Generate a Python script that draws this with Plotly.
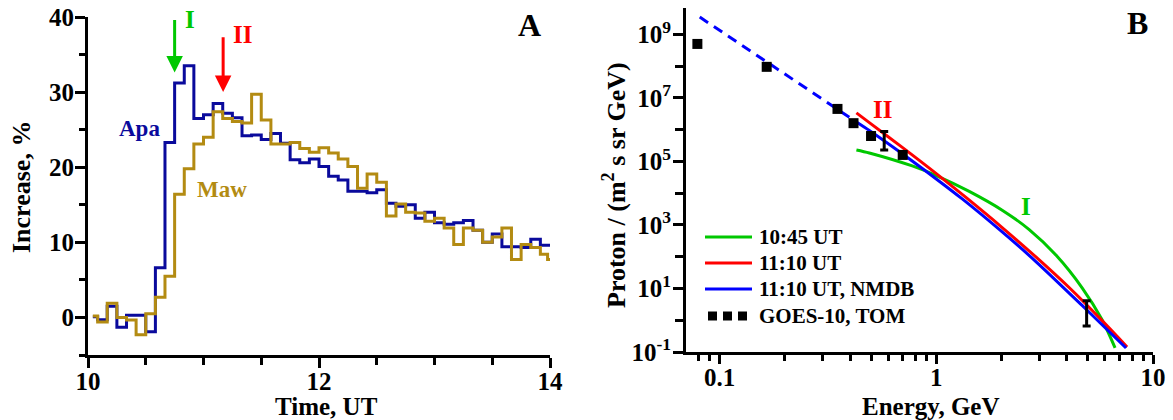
import math
import plotly.graph_objects as go

# ---------------- Panel A data (5-min bins, hours UT) ----------------
time_ut = [10.042, 10.125, 10.208, 10.292, 10.375, 10.458, 10.542, 10.625, 10.708, 10.792,
           10.875, 10.958, 11.042, 11.125, 11.208, 11.292, 11.375, 11.458, 11.542, 11.625,
           11.708, 11.792, 11.875, 11.958, 12.042, 12.125, 12.208, 12.292, 12.375, 12.458,
           12.542, 12.625, 12.708, 12.792, 12.875, 12.958, 13.042, 13.125, 13.208, 13.292,
           13.375, 13.458, 13.542, 13.625, 13.708, 13.792, 13.875, 13.958, 14.0]

apa_increase = [0.1, -0.3, 1.5, -1.3, 0.3, 0.3, -1.9, 6.6, 23.3, 31.2,
                33.5, 26.5, 27.0, 28.5, 27.2, 26.6, 24.2, 24.3, 23.7, 24.5,
                23.2, 21.0, 20.6, 21.1, 20.1, 18.8, 18.3, 16.8, 16.8, 16.6,
                17.0, 15.2, 14.8, 15.0, 13.2, 14.0, 12.6, 12.4, 12.6, 12.9,
                11.6, 10.0, 11.1, 9.4, 9.4, 9.3, 10.4, 9.6, 9.6]

maw_increase = [0.2, -0.6, 1.9, 0.0, -0.35, -2.3, 0.5, 2.7, 5.5, 16.4,
                19.8, 23.1, 24.0, 27.4, 26.5, 26.1, 25.9, 29.7, 26.3, 23.1,
                23.1, 23.3, 22.5, 22.0, 22.6, 21.9, 21.1, 20.1, 17.2, 19.1,
                18.0, 13.5, 15.1, 14.0, 13.9, 12.8, 13.2, 11.9, 9.7, 11.9,
                11.6, 10.0, 10.7, 11.9, 7.7, 9.7, 9.3, 8.4, 7.7]

arrow_times = [10.75, 11.17]          # I (10:45) and II (11:10)
arrow_labels = ["I", "II"]

# ---------------- Panel B data ----------------
goes_energy = [0.079, 0.165, 0.35, 0.415, 0.50, 0.70]
goes_flux = [5.0e8, 9.5e7, 4.5e6, 1.6e6, 6.3e5, 1.6e5]

tom_energy = [0.575, 4.94]
tom_low = [2.3e5, 0.66]
tom_high = [8.7e5, 4.1]

e_1045 = [0.428, 0.491, 0.775, 1.0, 1.419, 2.014, 2.684, 3.573, 4.709, 5.821, 6.683]
f_1045 = [2.30e5, 1.85e5, 7.2e4, 3.6e4, 1.14e4, 2.92e3, 716, 111, 10.5, 1.03, 0.134]

e_1110 = [0.428, 0.491, 0.697, 1.0, 1.375, 2.014, 2.889, 4.101, 5.821, 7.59]
f_1110 = [3.37e6, 1.66e6, 2.76e5, 4.13e4, 7.2e3, 828, 96.8, 10.7, 0.975, 0.144]

e_nmdb = [0.428, 0.491, 0.697, 1.0, 1.318, 2.014, 2.889, 4.709, 5.821, 7.51]
f_nmdb = [1.75e6, 9.46e5, 1.75e5, 2.81e4, 6.59e3, 603, 69.3, 2.92, 0.72, 0.134]

e_extrap = [0.081, 0.428]
f_extrap = [3.5e9, 1.75e6]

legend_names = ["10:45 UT", "11:10 UT", "11:10 UT, NMDB", "GOES-10, TOM"]

# ---------------- style ----------------
FONT = "Liberation Serif, Times New Roman, serif"
C_APA = "#0a0a9c"
C_MAW = "#b38b12"
C_GREEN = "#00c800"
C_RED = "#ff0000"
C_BLUE = "#0000ff"
W, H = 1173, 420

fig = go.Figure()

# Panel A
fig.add_trace(go.Scatter(x=time_ut, y=apa_increase, mode="lines", line=dict(color=C_APA, width=3, shape="hvh"),
                         showlegend=False, xaxis="x", yaxis="y"))
fig.add_trace(go.Scatter(x=time_ut, y=maw_increase, mode="lines", line=dict(color=C_MAW, width=3, shape="hvh"),
                         showlegend=False, xaxis="x", yaxis="y"))

# Panel B
fig.add_trace(go.Scatter(x=e_1045, y=f_1045, mode="lines", name=legend_names[0], showlegend=False,
                         line=dict(color=C_GREEN, width=3, shape="spline", smoothing=0.8), xaxis="x2", yaxis="y2"))
fig.add_trace(go.Scatter(x=e_1110, y=f_1110, mode="lines", name=legend_names[1], showlegend=False,
                         line=dict(color=C_RED, width=3, shape="spline", smoothing=0.8), xaxis="x2", yaxis="y2"))
fig.add_trace(go.Scatter(x=e_nmdb, y=f_nmdb, mode="lines", name=legend_names[2], showlegend=False,
                         line=dict(color=C_BLUE, width=3, shape="spline", smoothing=0.8), xaxis="x2", yaxis="y2"))
fig.add_trace(go.Scatter(x=e_extrap, y=f_extrap, mode="lines", showlegend=False,
                         line=dict(color=C_BLUE, width=3, dash="10px,7px"), xaxis="x2", yaxis="y2"))
fig.add_trace(go.Scatter(x=goes_energy, y=goes_flux, mode="markers", name=legend_names[3], showlegend=False,
                         marker=dict(symbol="square", size=10, color="black"), xaxis="x2", yaxis="y2"))
tom_center = [math.sqrt(lo * hi) for lo, hi in zip(tom_low, tom_high)]
fig.add_trace(go.Scatter(x=tom_energy, y=tom_center, mode="markers", showlegend=False,
                         marker=dict(size=1, color="rgba(0,0,0,0)"),
                         error_y=dict(type="data", symmetric=False,
                                      array=[h - c for h, c in zip(tom_high, tom_center)],
                                      arrayminus=[c - l for l, c in zip(tom_low, tom_center)],
                                      color="black", thickness=3, width=4),
                         xaxis="x2", yaxis="y2"))

tickfont = dict(family=FONT, size=25, color="black", weight="bold")
common = dict(showline=True, linewidth=3, linecolor="black", ticks="outside", tickwidth=3,
              tickcolor="black", showgrid=False, zeroline=False, tickfont=tickfont, mirror=False,
              automargin=False)


def b(s):
    return "<b>" + s + "</b>"


fig.update_layout(
    width=W, height=H, autosize=False, showlegend=False,
    margin=dict(l=0, r=0, t=0, b=0, autoexpand=False),
    paper_bgcolor="white", plot_bgcolor="white",
    xaxis=dict(domain=[88 / W, 550 / W], range=[10, 14], anchor="y",
               tickmode="array", tickvals=[10, 12, 14], ticktext=[b("10"), b("12"), b("14")], ticklen=10,
               ticklabelstandoff=-8,
               minor=dict(tickmode="array", tickvals=[10.5, 11, 11.5, 12.5, 13, 13.5],
                          ticks="outside", ticklen=7, tickwidth=3, tickcolor="black", showgrid=False),
               **common),
    yaxis=dict(domain=[1 - 355 / H, 1 - 17 / H], range=[-5, 40], anchor="x",
               tickmode="array", tickvals=[0, 10, 20, 30, 40],
               ticktext=[b("0"), b("10"), b("20"), b("30"), b("40")], ticklen=10,
               ticklabelstandoff=-4,
               minor=dict(tickmode="array", tickvals=[-5, 5, 15, 25, 35],
                          ticks="outside", ticklen=6, tickwidth=3, tickcolor="black", showgrid=False),
               **common),
    xaxis2=dict(type="log", domain=[686 / W, 1153 / W], range=[math.log10(0.07), 1], anchor="y2",
                tickmode="array", tickvals=[0.1, 1, 10], ticktext=[b("0.1"), b("1"), b("10")], ticklen=9,
                ticklabelstandoff=-8,
                minor=dict(tickmode="array",
                           tickvals=[0.08, 0.09, 0.2, 0.3, 0.4, 0.5, 0.6, 0.7, 0.8, 0.9,
                                     2, 3, 4, 5, 6, 7, 8, 9],
                           ticks="outside", ticklen=6, tickwidth=3, tickcolor="black", showgrid=False),
                **common),
    yaxis2=dict(type="log", domain=[1 - 352 / H, 1 - 8 / H], range=[-1, 9.83], anchor="x2",
                tickmode="array", tickvals=[0.1, 10, 1e3, 1e5, 1e7, 1e9],
                ticktext=[b("10<sup>-1</sup>"), b("10<sup>1</sup>"), b("10<sup>3</sup>"), b("10<sup>5</sup>"),
                          b("10<sup>7</sup>"), b("10<sup>9</sup>")], ticklen=10,
                ticklabelstandoff=-3,
                minor=dict(tickmode="array", tickvals=[1, 100, 1e4, 1e6, 1e8],
                           ticks="outside", ticklen=8, tickwidth=3, tickcolor="black", showgrid=False),
                **common),
)

ann = []
shapes = []
titlefont = dict(family=FONT, size=25, color="black", weight="bold")
ann.append(dict(text=b("Increase, %"), x=21 / W, y=1 - 187 / H, xref="paper", yref="paper",
                textangle=-90, showarrow=False, font=dict(titlefont, size=26), xanchor="center", yanchor="middle"))
ann.append(dict(text=b("Time, UT"), x=326 / W, y=1 - 406 / H, xref="paper", yref="paper",
                showarrow=False, font=titlefont, xanchor="center", yanchor="middle"))
ann.append(dict(text=b("Proton / (m<sup>2</sup> s sr GeV)"), x=614 / W, y=1 - 185 / H, xref="paper", yref="paper",
                textangle=-90, showarrow=False, font=dict(titlefont, size=26), xanchor="center", yanchor="middle"))
ann.append(dict(text=b("Energy, GeV"), x=931 / W, y=1 - 406 / H, xref="paper", yref="paper",
                showarrow=False, font=titlefont, xanchor="center", yanchor="middle"))
panelfont = dict(family=FONT, size=32, color="black", weight="bold")
ann.append(dict(text=b("A"), x=529 / W, y=1 - 25 / H, xref="paper", yref="paper", showarrow=False,
                font=panelfont, xanchor="center", yanchor="middle"))
ann.append(dict(text=b("B"), x=1137 / W, y=1 - 23 / H, xref="paper", yref="paper", showarrow=False,
                font=panelfont, xanchor="center", yanchor="middle"))
# station labels
ann.append(dict(text=b("Apa"), x=10.45, y=25.2, xref="x", yref="y", showarrow=False,
                font=dict(family=FONT, size=23, color=C_APA, weight="bold")))
ann.append(dict(text=b("Maw"), x=11.16, y=17.1, xref="x", yref="y", showarrow=False,
                font=dict(family=FONT, size=23, color=C_MAW, weight="bold")))
# arrows I and II
arrow_cols = [C_GREEN, C_RED]
arrow_tips = [32.6, 30.0]
arrow_tails = [39.8, 37.5]
for t, tip, tail, col in zip(arrow_times, arrow_tips, arrow_tails, arrow_cols):
    ann.append(dict(x=t, y=tip, ax=t, ay=tail, xref="x", yref="y", axref="x", ayref="y",
                    text="", showarrow=True, arrowhead=2, arrowsize=1.1, arrowwidth=3,
                    arrowcolor=col, standoff=0))
label_pos = [(10.88, 39.6), (11.34, 37.7)]
for (lx, ly), lab, col in zip(label_pos, arrow_labels, arrow_cols):
    ann.append(dict(text=b(lab), x=lx, y=ly, xref="x", yref="y", showarrow=False,
                    font=dict(family=FONT, size=25, color=col, weight="bold")))
# labels in panel B
ann.append(dict(text=b("II"), x=math.log10(0.565), y=6.62, xref="x2", yref="y2", showarrow=False,
                font=dict(family=FONT, size=25, color=C_RED, weight="bold")))
ann.append(dict(text=b("I"), x=0.415, y=3.57, xref="x2", yref="y2", showarrow=False,
                font=dict(family=FONT, size=25, color=C_GREEN, weight="bold")))

# hand-drawn legend (Origin style)
leg_rows = [237, 263, 289, 316]
leg_cols = [C_GREEN, C_RED, C_BLUE]
for row, col in zip(leg_rows[:3], leg_cols):
    shapes.append(dict(type="line", xref="paper", yref="paper", x0=705 / W, x1=752 / W,
                       y0=1 - row / H, y1=1 - row / H, line=dict(color=col, width=3)))
for sx in [708, 723, 738]:
    shapes.append(dict(type="rect", xref="paper", yref="paper", x0=sx / W, x1=(sx + 9) / W,
                       y0=1 - (leg_rows[3] + 4.5) / H, y1=1 - (leg_rows[3] - 4.5) / H,
                       fillcolor="black", line=dict(width=0)))
for row, name in zip(leg_rows, legend_names):
    ann.append(dict(text=b(name), x=757 / W, y=1 - row / H, xref="paper", yref="paper", showarrow=False,
                    xanchor="left", yanchor="middle",
                    font=dict(family=FONT, size=21, color="black", weight="bold")))

fig.update_layout(annotations=ann, shapes=shapes)
fig.write_html("out.html", config={"displayModeBar": False},
               post_script="document.body.style.margin='0px';")
